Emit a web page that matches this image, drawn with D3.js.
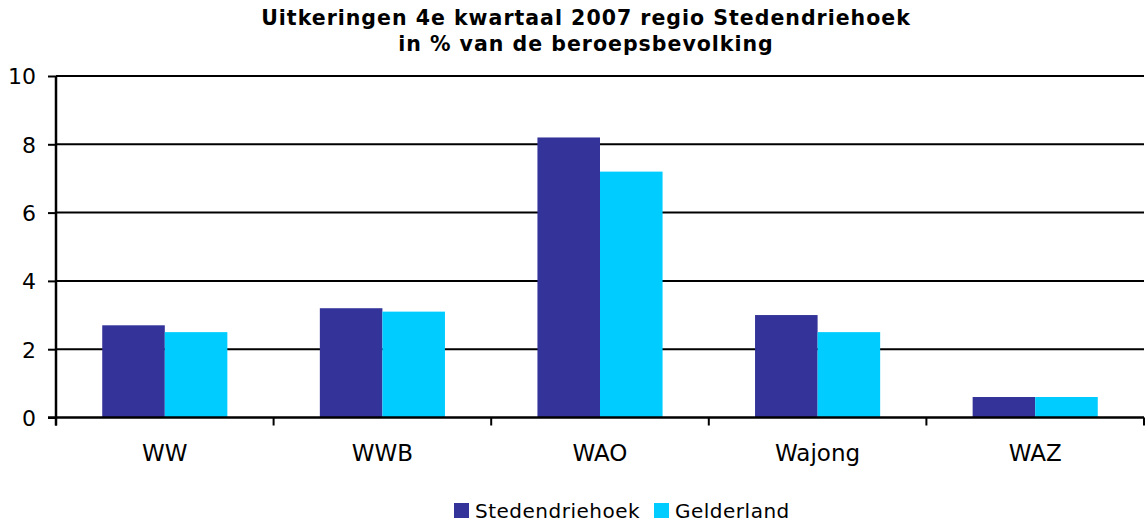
<!DOCTYPE html>
<html><head><meta charset="utf-8">
<script src="https://cdn.jsdelivr.net/npm/d3@7"></script>
<style>body{margin:0;background:#fff}svg{display:block}</style>
</head><body>
<svg id="c" width="1145" height="522"></svg>
<script>
const categories = ["WW","WWB","WAO","Wajong","WAZ"];
const seriesNames = ["Stedendriehoek","Gelderland"];
const stedendriehoek = [2.7,3.2,8.2,3.0,0.6];
const gelderland = [2.5,3.1,7.2,2.5,0.6];
const yTicks = [0,2,4,6,8,10];
const colors = ["#333399","#00CCFF"];
const titleLines = ["Uitkeringen 4e kwartaal 2007 regio Stedendriehoek","in % van de beroepsbevolking"];

const svg = d3.select("#c");
const L = 56, R = 1144, T = 76, B = 417.5;
const font = "'DejaVu Sans', Verdana, sans-serif";

const x0 = d3.scaleBand().domain(categories).range([L,R]).paddingInner(0.425).paddingOuter(0.2125);
const x1 = d3.scaleBand().domain(seriesNames).range([0,x0.bandwidth()]);
const y = d3.scaleLinear().domain([0,10]).range([B,T]);

// gridlines
svg.append("g").selectAll("line").data(yTicks.filter(d=>d>0)).join("line")
  .attr("x1",L).attr("x2",R).attr("y1",d=>y(d)).attr("y2",d=>y(d))
  .attr("stroke","#000").attr("stroke-width",2);

// bars
const data = categories.map((c,i)=>({c, vals:[stedendriehoek[i],gelderland[i]]}));
const g = svg.append("g").selectAll("g").data(data).join("g")
  .attr("transform",d=>`translate(${x0(d.c)},0)`);
g.selectAll("rect").data(d=>d.vals.map((v,j)=>({s:seriesNames[j],v,j}))).join("rect")
  .attr("x",d=>x1(d.s)).attr("width",x1.bandwidth())
  .attr("y",d=>y(d.v)).attr("height",d=>B-y(d.v))
  .attr("fill",d=>colors[d.j]);

// y axis
const ya = d3.axisLeft(y).tickValues(yTicks).tickSize(8).tickPadding(12).tickFormat(d3.format("d"));
const yg = svg.append("g").attr("transform",`translate(${L},0)`).call(ya);
yg.select(".domain").remove();
yg.selectAll(".tick line").attr("stroke","#000").attr("stroke-width",2);
yg.selectAll("text").attr("font-family",font).attr("font-size",22).attr("fill","#000").attr("dy","0.36em");
svg.append("line").attr("x1",L).attr("x2",L).attr("y1",T).attr("y2",B+8).attr("stroke","#000").attr("stroke-width",2.5);

// x axis line
svg.append("line").attr("x1",L-8).attr("x2",R).attr("y1",B).attr("y2",B).attr("stroke","#000").attr("stroke-width",2.5);
// category boundary ticks
const step = x0.step();
const bounds = categories.map((c,i)=> i===0 ? L : x0(c)-x0.paddingInner()*step/2);
bounds.push(R);
svg.append("g").selectAll("line").data(bounds).join("line")
  .attr("x1",d=>d).attr("x2",d=>d).attr("y1",B).attr("y2",B+8)
  .attr("stroke","#000").attr("stroke-width",2);
// category labels
svg.append("g").selectAll("text").data(categories).join("text")
  .attr("x",d=>x0(d)+x0.bandwidth()/2).attr("y",461)
  .attr("text-anchor","middle").attr("font-family",font).attr("font-size",23).text(d=>d);

// title
svg.append("g").selectAll("text").data(titleLines).join("text")
  .attr("x",586).attr("y",(d,i)=>25+i*26).attr("text-anchor","middle")
  .attr("font-family",font).attr("font-weight","bold").attr("font-size",20.5)
  .attr("letter-spacing",1.0).text(d=>d);

// legend
const legX = [454,654];
const lg = svg.append("g").selectAll("g").data(seriesNames).join("g")
  .attr("transform",(d,i)=>`translate(${legX[i]},503)`);
lg.append("rect").attr("width",15).attr("height",15).attr("fill",(d,i)=>colors[i]);
lg.append("text").attr("x",21).attr("y",15).attr("font-family",font).attr("font-size",20)
  .attr("letter-spacing",0.5).text(d=>d);
</script>
</body></html>
